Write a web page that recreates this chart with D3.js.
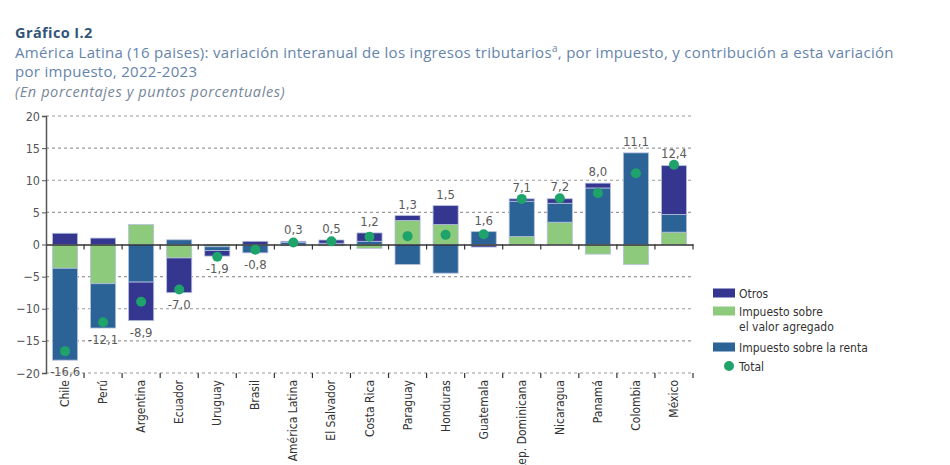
<!DOCTYPE html>
<html>
<head>
<meta charset="utf-8">
<script src="https://cdn.jsdelivr.net/npm/d3@7"></script>
<style>
  body { margin: 0; background: #fff; }
  svg { display: block; }
  .cond { font-family: "Liberation Sans Narrow", "DejaVu Sans Condensed", "Roboto Condensed", "Liberation Sans", sans-serif; font-stretch: condensed; }
  .ttl { font-family: "Open Sans", Lato, sans-serif; }
</style>
</head>
<body>
<svg id="chart" width="950" height="465"></svg>
<script>
const categories = ["Chile","Perú","Argentina","Ecuador","Uruguay","Brasil","América Latina","El Salvador","Costa Rica","Paraguay","Honduras","Guatemala","Rep. Dominicana","Nicaragua","Panamá","Colombia","México"];
const otros = [1.75, 1.0, -6.0, -5.4, -0.85, 0.5, 0.2, 0.5, 1.3, 0.77, 2.95, -0.3, 0.37, 0.7, 0.75, 0, 7.6];
const iva   = [-3.7, -6.1, 3.1, -2.1, -0.35, -0.1, -0.2, -0.2, -0.6, 3.73, 3.1, -0.1, 1.24, 3.47, -1.5, -3.1, 1.92];
const renta = [-14.3, -6.9, -5.85, 0.73, -0.6, -1.2, 0.3, 0.2, 0.5, -3.1, -4.46, 2.0, 5.5, 2.95, 8.8, 14.26, 2.75];
const totals = [-16.6, -12.1, -8.9, -7.0, -1.9, -0.8, 0.3, 0.5, 1.2, 1.3, 1.5, 1.6, 7.1, 7.2, 8.0, 11.1, 12.4];
const yTicks = [-20, -15, -10, -5, 0, 5, 10, 15, 20];

const seriesKeys = ["iva", "renta", "otros"];
const seriesColor = { otros: "#34368f", iva: "#8dca7b", renta: "#2b6397" };
const totalColor = "#1ea36b";

const rows = categories.map((c, i) => ({ cat: c, otros: otros[i], iva: iva[i], renta: renta[i], total: totals[i] }));

const svg = d3.select("#chart");
const pLeft = 46, pRight = 693, pTop = 116, pBottom = 373;

const x = d3.scaleBand().domain(categories).range([pLeft, pRight]).padding(0);
const y = d3.scaleLinear().domain([-20, 20]).range([pBottom, pTop]);
const barW = x.bandwidth() * 0.66;

// Title block
svg.append("text").attr("class", "ttl").attr("x", 15).attr("y", 37.5)
  .attr("font-weight", "bold").attr("font-size", 14.5).attr("letter-spacing", 0.4)
  .attr("fill", "#34557a").text("Gráfico I.2");
const sub = svg.append("text").attr("class", "ttl").attr("font-size", 15)
  .attr("letter-spacing", 0.3).attr("fill", "#6584ab");
sub.append("tspan").attr("x", 15).attr("y", 57.5).text("América Latina (16 paises): variación interanual de los ingresos tributarios");
sub.append("tspan").attr("dy", -6).attr("font-size", 10).text("a");
sub.append("tspan").attr("dy", 6).text(", por impuesto, y contribución a esta variación");
svg.append("text").attr("class", "ttl").attr("x", 15).attr("y", 77)
  .attr("font-size", 15).attr("letter-spacing", 0.3).attr("fill", "#6584ab").text("por impuesto, 2022-2023");
svg.append("text").attr("class", "ttl").attr("x", 15).attr("y", 96.5)
  .attr("font-style", "italic").attr("font-size", 14.5).attr("letter-spacing", 0.6).attr("fill", "#76869a")
  .text("(En porcentajes y puntos porcentuales)");

// Grid
svg.append("g").selectAll("line").data(yTicks.filter(d => d !== 0)).join("line")
  .attr("x1", pLeft).attr("x2", pRight).attr("y1", d => y(d)).attr("y2", d => y(d))
  .attr("stroke", "#9a9a9a").attr("stroke-width", 1.2).attr("stroke-dasharray", "3,3");

// Y axis
const yAxis = svg.append("g").attr("transform", `translate(${pLeft},0)`)
  .call(d3.axisLeft(y).tickValues(yTicks).tickSize(4).tickFormat(d3.format("d")));
yAxis.select(".domain").attr("stroke", "#555").attr("stroke-width", 1.5);
yAxis.selectAll(".tick line").attr("stroke", "#555");
yAxis.selectAll(".tick text").attr("class", "cond").attr("font-size", 12.5).attr("fill", "#555").attr("x", -6);

// Stacked bars
const stack = d3.stack().keys(seriesKeys).offset(d3.stackOffsetDiverging);
const stacked = stack(rows);
svg.append("g").selectAll("g").data(stacked).join("g")
  .attr("fill", d => seriesColor[d.key])
  .selectAll("rect").data(d => d).join("rect")
  .attr("x", d => x(d.data.cat) + (x.bandwidth() - barW) / 2)
  .attr("width", barW)
  .attr("y", d => y(Math.max(d[0], d[1])))
  .attr("height", d => Math.abs(y(d[0]) - y(d[1])))
  .attr("stroke", "#b5c0de").attr("stroke-width", 0.8);

// Zero axis with category boundary ticks
const xAxis = svg.append("g").attr("transform", `translate(0,${y(0)})`)
  .call(d3.axisBottom(x).tickSize(0).tickFormat(""));
xAxis.select(".domain").attr("stroke", "#333").attr("stroke-width", 1.5);
const bounds = categories.map(c => x(c)).concat([pRight]).slice(1);
svg.append("g").selectAll("line").data(bounds).join("line")
  .attr("x1", d => d).attr("x2", d => d).attr("y1", y(0)).attr("y2", y(0) + 5)
  .attr("stroke", "#333").attr("stroke-width", 1.2);
svg.append("g").selectAll("line").data(bounds).join("line")
  .attr("x1", d => d).attr("x2", d => d).attr("y1", y(-20)).attr("y2", y(-20) + 5)
  .attr("stroke", "#333").attr("stroke-width", 1.2);

// Category labels
svg.append("g").selectAll("text").data(categories).join("text")
  .attr("class", "cond").attr("font-size", 12).attr("fill", "#333")
  .attr("text-anchor", "end")
  .attr("transform", d => `translate(${x(d) + x.bandwidth() / 2 + 4},${pBottom + 7}) rotate(-90)`)
  .text(d => d);

// Total dots
svg.append("g").selectAll("circle").data(rows).join("circle")
  .attr("cx", d => x(d.cat) + x.bandwidth() / 2)
  .attr("cy", d => y(d.total)).attr("r", 5)
  .attr("fill", totalColor);

// Value labels
const fmt = v => d3.format(".1f")(v).replace(".", ",").replace("−", "-");
svg.append("g").selectAll("text").data(rows).join("text")
  .attr("class", "cond").attr("font-size", 13).attr("fill", "#5a5a5a")
  .attr("text-anchor", "middle")
  .attr("x", d => x(d.cat) + x.bandwidth() / 2)
  .attr("y", d => {
    if (d.total >= 0) {
      const topV = Math.max(d.total, d3.sum(seriesKeys, k => Math.max(0, d[k])));
      return y(topV) - 7;
    } else {
      const botV = Math.min(d.total, d3.sum(seriesKeys, k => Math.min(0, d[k])));
      return y(botV) + 16;
    }
  })
  .text(d => fmt(d.total));

// Legend
const legendItems = [
  { key: "otros", lines: ["Otros"] },
  { key: "iva", lines: ["Impuesto sobre", "el valor agregado"] },
  { key: "renta", lines: ["Impuesto sobre la renta"] }
];
const lg = svg.append("g").attr("class", "cond");
const legendY = [293, 311, 347];
legendItems.forEach((it, i) => {
  lg.append("rect").attr("x", 713).attr("y", legendY[i] - 4.5).attr("width", 22).attr("height", 9)
    .attr("fill", seriesColor[it.key]);
  const t = lg.append("text").attr("font-size", 12).attr("fill", "#333");
  it.lines.forEach((ln, j) => {
    t.append("tspan").attr("x", 739).attr("y", legendY[i] + 4.5 + j * 15).text(ln);
  });
});
lg.append("circle").attr("cx", 729).attr("cy", 366).attr("r", 5).attr("fill", totalColor);
lg.append("text").attr("x", 739).attr("y", 370.5).attr("font-size", 12).attr("fill", "#333").text("Total");
</script>
</body>
</html>
